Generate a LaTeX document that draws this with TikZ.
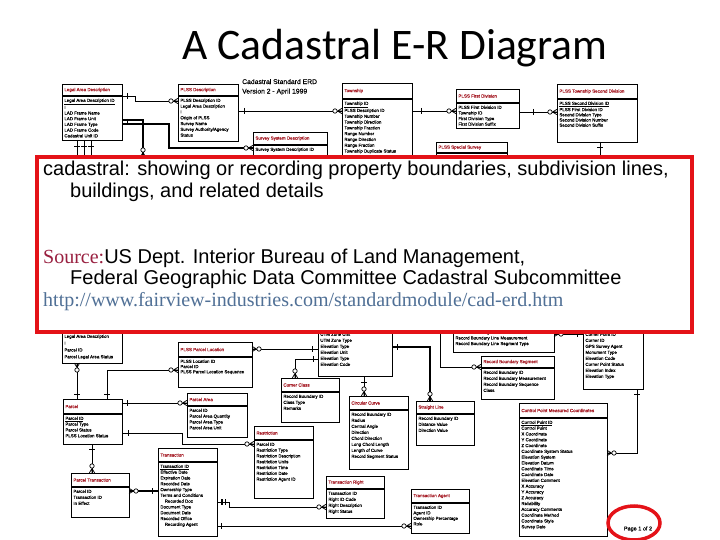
\documentclass[tikz,border=0pt]{standalone}
\usepackage{fontspec}
\setmainfont{Liberation Sans}
\newfontfamily\arialf{Liberation Sans}
\newfontfamily\erattrf[FakeBold=0.35]{Liberation Sans}
\newfontfamily\ertitlef[FakeBold=0.6]{Liberation Sans}
\newfontfamily\timesf{Liberation Serif}
\newfontfamily\calibf{Carlito}
\usetikzlibrary{shadows,calc}
\definecolor{boxred}{RGB}{228,18,24}
\definecolor{erred}{RGB}{165,25,35}
\definecolor{srcred}{RGB}{153,32,64}
\definecolor{urlblue}{RGB}{80,112,150}
\tikzset{
  erbox/.style={draw, fill=white, line width=0.6pt, inner sep=0pt, outer sep=0pt,
    drop shadow={shadow xshift=1.1pt, shadow yshift=-1.1pt, opacity=1, fill=black}},
  sepline/.style={line width=1.2pt},
  ertitle/.style={inner sep=0pt, text=erred, font=\ertitlef\fontsize{4.5}{5}\selectfont},
  erattr/.style={inner sep=0pt, align=left, text=black},
  conn/.style={line width=0.7pt},
  thickconn/.style={line width=1.5pt},
  redtext/.style={inner sep=0pt, font=\arialf\fontsize{20}{22}\selectfont},
  erzm/.pic={\draw[conn] (4.5,0) -- (0,-2.7) (4.5,0) -- (0,0) (4.5,0) -- (0,2.7);
             \draw[conn, fill=white] (7,0) circle[radius=2.2];},
  erbar/.pic={\draw[conn] (0,-3) -- (0,3);}
}
\newcommand{\erbox}[9]{%
  \node[erbox, minimum width={#4-#2}, minimum height={#5-#3}, anchor=north west] (#1) at (#2,#3) {};
  \draw[sepline] (#2,#6) -- (#4,#6);
  \node[ertitle, anchor=west] at (#2+2.2,{(#3+#6)/2}) {#8};
  \node[erattr, anchor=north west, font={\erattrf\fontsize{4.4}{#7}\selectfont}] at (#2+2.2,#6+2.5) {#9};
}
\begin{document}
\begin{tikzpicture}[x=1pt,y=-1pt]
\useasboundingbox (0,0) rectangle (720,540);
\fill[white] (0,0) rectangle (720,540);

% title
\node[font=\calibf\fontsize{43.6}{48}\selectfont, anchor=base, inner sep=0pt] (title) at (395,60) {A Cadastral E-R Diagram};

% ---------- top part of the ERD ----------
\node[anchor=west, font=\erattrf\fontsize{6.8}{9.5}\selectfont, align=left, inner sep=0pt] (erdname) at (242,87) {Cadastral Standard ERD\\Version 2 - April 1999};

\erbox{lada}{62}{84}{122}{140}{96}{5.7}{Legal Area Description}{\underline{Legal Area Description ID}\\I\\LAD Frame Name\\LAD Frame Unit\\LAD Frame Type\\LAD Frame Code\\Cadastral Unit ID}
\erbox{pdesc}{178}{84}{238}{141}{96}{5.8}{PLSS Description}{PLSS Description ID\\Legal Area Description\\I\\Origin of PLSS\\Survey Name\\Survey Authority/Agency\\Status}
\erbox{twp}{342}{83}{412}{200}{99}{5.8}{Township}{\underline{Township ID}\\PLSS Description ID\\Township Number\\Township Direction\\Township Fraction\\Range Number\\Range Direction\\Range Fraction\\Township Duplicate Status}
\erbox{fdiv}{456}{89}{519}{128}{103}{5.6}{PLSS First Division}{PLSS First Division ID\\Township ID\\First Division Type\\First Division Suffix}
\erbox{sdiv}{557}{84}{637}{142}{99}{5.2}{PLSS Township Second Division}{\underline{PLSS Second Division ID}\\PLSS First Division ID\\Second Division Type\\Second Division Number\\Second Division Suffix}
\erbox{ssd}{253}{132}{327}{200}{145}{5.8}{Survey System Description}{Survey System Description ID}
\erbox{spec}{436}{142}{507}{200}{153}{5.8}{PLSS Special Survey}{}

\draw[conn] (lada.east |- 0,96) -- (135,96) -- (135,101) -- (pdesc.west |- 0,101);
\pic at (127,96) {erbar};
\pic[rotate=180] at (pdesc.west |- 0,101) {erzm};
\draw[conn] (pdesc.east |- 0,111) -- (twp.west |- 0,111);
\pic at (244,111) {erbar};
\pic[rotate=180] at (twp.west |- 0,111) {erzm};
\draw[conn] (twp.east |- 0,111) -- (fdiv.west |- 0,111);
\pic at (421,111) {erbar};
\pic[rotate=180] at (fdiv.west |- 0,111) {erzm};
\draw[conn] (fdiv.east |- 0,112) -- (sdiv.west |- 0,112);
\pic at (533,112) {erbar};
\pic[rotate=180] at (sdiv.west |- 0,112) {erzm};
\draw[conn] (sdiv.south -| 600,0) -- (600,158);
\pic[rotate=90] at (600,147) {erbar};
\foreach \xx in {77,84,91}{
  \draw[conn] (lada.south -| \xx,0) -- (\xx,158);
  \pic[rotate=90] at (\xx,146) {erbar};
}
\draw[thickconn] (lada.east |- 0,120) -- (143,120) -- (143,158);
\pic[rotate=90] at (143,157) {erzm};
\draw[thickconn] (lada.east |- 0,124) -- (169,124) -- (169,148) -- (ssd.west |- 0,148);
\pic at (127,122) {erbar};
\pic[rotate=180] at (ssd.west |- 0,148) {erzm};

% ---------- bottom part of the ERD ----------
\erbox{ladb}{62}{300}{122}{363}{332}{6.8}{}{Legal Area Description\\I\\Parcel ID\\Parcel Legal Area Status}
\erbox{ploc}{178}{342}{252}{387}{357}{5.2}{PLSS Parcel Location}{PLSS Location ID\\Parcel ID\\PLSS Parcel Location Sequence}
\erbox{mcor}{318}{300}{392}{376}{330}{6}{}{UTM Zone Unit\\UTM Zone Type\\Elevation Type\\Elevation Unit\\Elevation Type\\Elevation Code}
\erbox{ccls}{281}{378}{339}{422}{392}{6}{Corner Class}{Record Boundary ID\\Class Type\\Remarks}
\erbox{ccur}{349}{396}{408}{469}{410}{6}{Circular Curve}{Record Boundary ID\\Radius\\Central Angle\\Direction\\Chord Direction\\Long Chord Length\\Length of Curve\\Record Segment Status}
\erbox{sline}{416}{401}{474}{445}{414}{6}{Straight Line}{Record Boundary ID\\Distance Value\\Direction Value}
\erbox{rbnd}{453}{300}{554}{352}{328}{5.6}{}{Record Boundary ID\\Record Boundary Line Measurement\\Record Boundary Line Segment Type}
\erbox{rbseg}{481}{356}{554}{399}{368}{6}{Record Boundary Segment}{Record Boundary ID\\Record Boundary Measurement\\Record Boundary Sequence\\Class}
\erbox{cpt}{583}{300}{643}{389}{330}{6}{}{Corner Point ID\\Corner ID\\GPS Survey Agent\\Monument Type\\Elevation Code\\Corner Point Status\\Elevation Index\\Elevation Type}
\erbox{cpmc}{519}{403}{607}{536}{418}{5.8}{Control Point Measured Coordinates}{\underline{Control Point ID}\\Control Point\\X Coordinate\\Y Coordinate\\Z Coordinate\\Coordinate System Status\\Elevation System\\Elevation Datum\\Coordinate Time\\Coordinate Date\\Elevation Comment\\X Accuracy\\Y Accuracy\\Z Accuracy\\Reliability\\Accuracy Comments\\Coordinate Method\\Coordinate Style\\Survey Date}
\erbox{parcel}{63}{399}{122}{444}{414}{5.8}{Parcel}{\underline{Parcel ID}\\Parcel Type\\Parcel Status\\PLSS Location Status}
\erbox{parea}{187}{393}{247}{437}{406}{5.8}{Parcel Area}{Parcel ID\\Parcel Area Quantity\\Parcel Area Type\\Parcel Area Unit}
\erbox{restr}{254}{426}{313}{498}{440}{5.8}{Restriction}{Parcel ID\\Restriction Type\\Restriction Description\\Restriction Units\\Restriction Time\\Restriction Date\\Restriction Agent ID}
\erbox{ptran}{71}{473}{129}{517}{487}{6}{Parcel Transaction}{Parcel ID\\Transaction ID\\In Effect}
\erbox{trans}{158}{448}{217}{536}{462}{5.8}{Transaction}{\underline{Transaction ID}\\Effective Date\\Expiration Date\\Recorded Date\\Ownership Type\\Terms and Conditions\\\quad Recorded Doc\\Document Type\\Document Date\\Recorded Office\\\quad Recording Agent}
\erbox{tright}{326}{476}{384}{518}{489}{6}{Transaction Right}{Transaction ID\\Right ID Code\\Right Description\\Right Status}
\erbox{tagent}{411}{489}{469}{533}{503}{5.5}{Transaction Agent}{Transaction ID\\Agent ID\\Ownership Percentage\\Role}

\draw[conn] (ladb.south -| 77,0) -- (parcel.north -| 77,0);
\pic[rotate=-90] at (ladb.south -| 77,0) {erzm};
\pic[rotate=90] at (77,394) {erbar};
\draw[conn] (parcel.north -| 107,0) -- (107,370) -- (ploc.west |- 0,370);
\pic[rotate=90] at (107,394) {erbar};
\pic[rotate=180] at (ploc.west |- 0,370) {erzm};
\draw[conn] (mcor.west |- 0,349) -- (ploc.east |- 0,349);
\pic at (312,349) {erbar};
\pic at (ploc.east |- 0,349) {erzm};
\draw[conn] (parcel.east |- 0,403) -- (parea.west |- 0,403);
\pic at (127,403) {erbar};
\pic[rotate=180] at (parea.west |- 0,403) {erzm};
\draw[conn] (parcel.east |- 0,433) -- (182,433) -- (182,444) -- (restr.west |- 0,444);
\pic at (128,433) {erbar};
\pic[rotate=180] at (restr.west |- 0,444) {erzm};
\draw[conn] (parcel.south -| 92,0) -- (ptran.north -| 92,0);
\pic[rotate=90] at (92,449) {erbar};
\pic[rotate=90] at (ptran.north -| 92,0) {erzm};
\draw[thickconn] (ptran.east |- 0,491) -- (trans.west |- 0,491);
\pic at (ptran.east |- 0,491) {erzm};
\pic at (152,491) {erbar};
\draw[conn] (trans.east |- 0,502) -- (229,502) -- (229,507) -- (tright.west |- 0,507);
\draw[line width=1.3pt] (222,499) -- (222,505) (225.5,499) -- (225.5,505);
\pic[rotate=180] at (tright.west |- 0,507) {erzm};
\draw[conn] (trans.east |- 0,526) -- (tagent.west |- 0,526);
\pic at (221,526) {erbar};
\pic[rotate=180] at (tagent.west |- 0,526) {erzm};
\draw[conn] (mcor.west |- 0,359) -- (295,359) -- (ccls.north -| 295,0);
\pic at (313,359) {erbar};
\pic[rotate=90] at (ccls.north -| 295,0) {erzm};
\draw[conn] (mcor.south -| 364,0) -- (ccur.north -| 364,0);
\pic[rotate=90] at (364,382) {erbar};
\pic[rotate=90] at (ccur.north -| 364,0) {erzm};
\draw[thickconn] (mcor.east |- 0,347) -- (430,347) -- (sline.north -| 430,0);
\pic at (397,347) {erbar};
\pic[rotate=90] at (sline.north -| 430,0) {erzm};
\coordinate (rbtop) at (440,328);
\draw[conn] (rbtop) -- (440,367) -- (rbseg.west |- 0,367);
\pic[rotate=180] at (rbseg.west |- 0,367) {erzm};
\draw[conn] (cpt.west |- 0,334) -- (rbnd.east |- 0,334);
\pic at (577,334) {erbar};
\pic at (rbnd.east |- 0,334) {erzm};
\draw[conn] (cpt.south -| 637,0) -- (637,453) -- (cpmc.east |- 0,453);
\pic[rotate=90] at (637,394) {erbar};
\pic at (cpmc.east |- 0,453) {erzm};

% page marker
\node[inner sep=0pt, font=\erattrf\fontsize{5.5}{6}\selectfont] (pg) at (638,529) {Page 1 of 2};
\draw[boxred, line width=3.5pt] (634,523) ellipse [x radius=26, y radius=17];

% ---------- overlay box ----------
\node[draw=boxred, line width=4pt, fill=white, minimum width=655, minimum height=175, anchor=north west, inner sep=0pt] (defbox) at (35,155) {};
\node[redtext, anchor=base west] (l1) at (43,176) {cadastral: showing or recording property boundaries, subdivision lines,};
\node[redtext, anchor=base west] (l2) at (70,198) {buildings, and related details};
\node[redtext, anchor=base west] (l3) at (43,263) {{\timesf\color{srcred}Source:}US Dept. Interior Bureau of Land Management,};
\node[redtext, anchor=base west] (l4) at (70,284) {Federal Geographic Data Committee Cadastral Subcommittee};
\node[redtext, anchor=base west, font=\timesf\fontsize{20}{22}\selectfont, text=urlblue] (l5) at (43,306) {http://www.fairview-industries.com/standardmodule/cad-erd.htm};
\end{tikzpicture}
\end{document}
